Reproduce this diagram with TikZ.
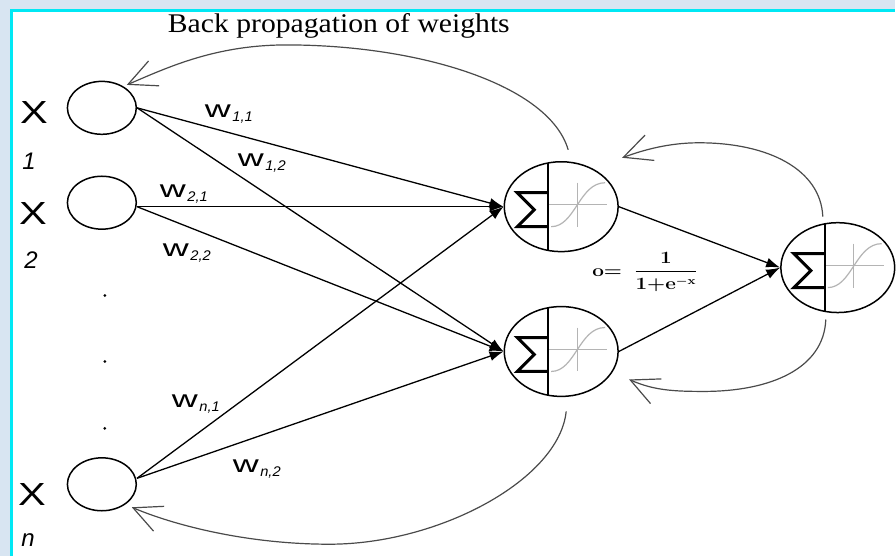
\documentclass[tikz,border=0pt]{standalone}
\usepackage{fontspec}
\setmainfont{Liberation Serif}
\newfontfamily\arialf{Liberation Sans}
\usetikzlibrary{shapes.geometric,arrows.meta,calc}
\definecolor{bgblue}{HTML}{D8E5F2}
\definecolor{framecyan}{HTML}{00E8F4}
\definecolor{backgray}{HTML}{4A4A4A}
\definecolor{siggray}{HTML}{B4B4B4}
\newcommand\sx[2]{\scalebox{#1}[1]{#2}}
\newcommand\wlabel[1]{\sx{1.5}{w}\kern1.5pt\raisebox{-4pt}{\fontsize{14}{14}\selectfont\itshape\sx{1.05}{#1}}}
\begin{document}
\begin{tikzpicture}[x=1pt,y=-1pt,
  inp/.style={ellipse, draw, line width=1.5pt, minimum width=69pt, minimum height=53pt, inner sep=0pt},
  neuron/.style={ellipse, draw, line width=1.5pt, minimum width=114pt, minimum height=90pt, inner sep=0pt},
  conn/.style={line width=1.3pt, -{Latex[length=14pt,width=10pt]}},
  back/.style={backgray, line width=1.2pt, -{Straight Barb[length=28pt,width=27pt,line width=1.2pt]}},
  xlab/.style={font=\arialf\fontsize{32}{32}\selectfont, inner sep=0pt},
  idx/.style={font=\arialf\itshape\fontsize{24}{24}\selectfont, inner sep=0pt},
  wlab/.style={font=\arialf\fontsize{24}{24}\selectfont, inner sep=0pt, anchor=base west},
  dotn/.style={circle, fill, inner sep=0pt, minimum size=3pt},
]
% background and frame
\fill[bgblue] (0,0) rectangle (896,557);
\fill[white] (12,10) rectangle (896,557);
\draw[framecyan, line width=2.6pt] (11.5,557) -- (11.5,10.5) -- (896,10.5);
\useasboundingbox (0,0) rectangle (896,557);

% title
\node[anchor=base west, inner sep=0pt] (title) at (168,33) {\fontsize{27}{27}\selectfont\sx{1.1}{Back propagation of weights}};

% input neurons
\node[inp] (x1) at (102,108) {};
\node[inp] (x2) at (102,203) {};
\node[inp] (xn) at (102,485) {};

% input labels
\node[xlab] (lx1) at (34,113) {\sx{1.3}{X}};
\node[idx]  (li1) at (29,161) {1};
\node[xlab] (lx2) at (33,214) {\sx{1.3}{X}};
\node[idx]  (li2) at (31,261) {2};
\node[xlab] (lxn) at (32,495) {\sx{1.3}{X}};
\node[idx]  (lin) at (28,541) {n};

% dots
\node[dotn] (d1) at (105,296) {};
\node[dotn] (d2) at (105,362) {};
\node[dotn] (d3) at (105,429) {};

% hidden and output neurons
\node[neuron] (h1) at (562,207) {};
\node[neuron] (h2) at (562,352) {};
\node[neuron] (o1) at (839,268) {};

\foreach \n in {h1,h2,o1}{
  \begin{scope}[shift={(\n)}]
    \draw[siggray, line width=1.2pt] (-13,-2) -- (46,-2);
    \draw[siggray, line width=1.2pt] (16,-24) -- (16,20);
    \draw[siggray, line width=1.2pt] (-10,20) .. controls (14,20) and (18,-24) .. (44,-24);
    \draw[line width=1.5pt] (-13,-43.8) -- (-13,43.8);
    \draw[line width=3pt, miter limit=4] (-13,-14) -- (-44,-14) -- (-27,3) -- (-44,20) -- (-13,20);
  \end{scope}
}

% connectors
\coordinate (x2o) at ($(x2.east)+(0,4)$);
\coordinate (xno) at ($(xn.east)+(0,-6)$);
\draw[conn] (x1.east) -- (h1.west);
\draw[conn] (x1.east) -- (h2.west);
\draw[conn] (x2o) -- (h1.west);
\draw[conn] (x2o) -- (h2.west);
\draw[conn] (xno) -- (h1.west);
\draw[conn] (xno) -- (h2.west);
\draw[conn] (h1.east) -- (o1.west);
\draw[conn] (h2.east) -- (o1.west);

% weight labels
\node[wlab] (w11) at (205,118) {\wlabel{1,1}};
\node[wlab] (w12) at (238,167) {\wlabel{1,2}};
\node[wlab] (w21) at (160,198) {\wlabel{2,1}};
\node[wlab] (w22) at (163,257) {\wlabel{2,2}};
\node[wlab] (wn1) at (172,408) {\wlabel{n,1}};
\node[wlab] (wn2) at (233,473) {\wlabel{n,2}};

% formula
\node[anchor=west, inner sep=0pt] (form) at (593,272) {\fontsize{16}{16}\selectfont\sx{1.2}{\boldmath$\displaystyle\mathbf{o}{=}\hspace{10pt}\frac{\mathbf{1}}{\mathbf{1}{+}\mathbf{e}^{\mathbf{-x}}}$}};

% back propagation curves
\coordinate (b1) at (569,150);
\coordinate (t1) at (127,85);
\coordinate (b2) at (567,412);
\coordinate (t2) at (132,508);
\coordinate (b3) at (824,217);
\coordinate (t3) at (623,158);
\coordinate (b4) at (827,320);
\coordinate (t4) at (630,380);
\draw[back] (b1) .. controls (550,85) and (420,45) .. (287,45) .. controls (215,45) and (167,68) .. (t1);
\draw[back] (b2) .. controls (560,480) and (440,545) .. (330,545) .. controls (245,545) and (172,525) .. (t2);
\draw[back] (b3) .. controls (822,170) and (770,143) .. (700,143) .. controls (670,143) and (645,150) .. (t3);
\draw[back] (b4) .. controls (825,370) and (770,392) .. (705,392) .. controls (675,392) and (655,391) .. (t4);
\end{tikzpicture}
\end{document}
